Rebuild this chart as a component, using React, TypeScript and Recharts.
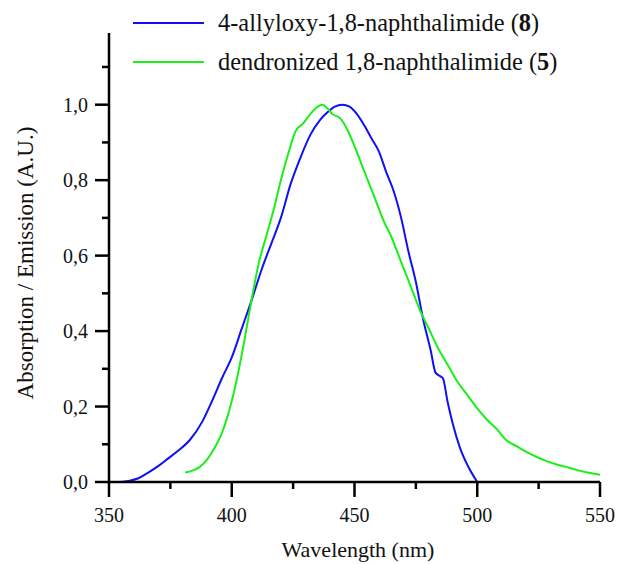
import { FC } from "react";
import { LineChart, Line, XAxis, YAxis, Label } from "recharts";

// absorption spectrum, 4-allyloxy-1,8-naphthalimide (8)
const absorption8 = [
  { nm: 353, v: 0 },
  { nm: 358, v: 0.003 },
  { nm: 362, v: 0.01 },
  { nm: 366, v: 0.025 },
  { nm: 370, v: 0.042 },
  { nm: 374, v: 0.062 },
  { nm: 378, v: 0.082 },
  { nm: 383, v: 0.112 },
  { nm: 388, v: 0.16 },
  { nm: 392, v: 0.215 },
  { nm: 396, v: 0.275 },
  { nm: 400, v: 0.33 },
  { nm: 404, v: 0.405 },
  { nm: 408, v: 0.48 },
  { nm: 412, v: 0.56 },
  { nm: 416, v: 0.63 },
  { nm: 420, v: 0.7 },
  { nm: 424, v: 0.79 },
  { nm: 428, v: 0.86 },
  { nm: 432, v: 0.92 },
  { nm: 436, v: 0.96 },
  { nm: 439, v: 0.98 },
  { nm: 442, v: 0.995 },
  { nm: 445, v: 1.0 },
  { nm: 448, v: 0.995 },
  { nm: 451, v: 0.975 },
  { nm: 454, v: 0.945 },
  { nm: 457, v: 0.91 },
  { nm: 460, v: 0.875 },
  { nm: 463, v: 0.82 },
  { nm: 466, v: 0.77 },
  { nm: 469, v: 0.7 },
  { nm: 472, v: 0.61 },
  { nm: 475, v: 0.53 },
  { nm: 478, v: 0.43 },
  { nm: 481, v: 0.35 },
  { nm: 483, v: 0.29 },
  { nm: 485, v: 0.28 },
  { nm: 486, v: 0.275 },
  { nm: 488, v: 0.21 },
  { nm: 490, v: 0.155 },
  { nm: 493, v: 0.09 },
  { nm: 496, v: 0.045 },
  { nm: 500, v: 0 },
];

// emission spectrum, dendronized 1,8-naphthalimide (5)
const emission5 = [
  { nm: 381, v: 0.025 },
  { nm: 384, v: 0.03 },
  { nm: 387, v: 0.04 },
  { nm: 390, v: 0.06 },
  { nm: 393, v: 0.09 },
  { nm: 396, v: 0.13 },
  { nm: 399, v: 0.19 },
  { nm: 402, v: 0.27 },
  { nm: 405, v: 0.37 },
  { nm: 408, v: 0.48 },
  { nm: 411, v: 0.58 },
  { nm: 414, v: 0.65 },
  { nm: 417, v: 0.72 },
  { nm: 420, v: 0.8 },
  { nm: 423, v: 0.87 },
  { nm: 426, v: 0.93 },
  { nm: 429, v: 0.95 },
  { nm: 432, v: 0.975 },
  { nm: 435, v: 0.995 },
  { nm: 437, v: 1.0 },
  { nm: 439, v: 0.99 },
  { nm: 441, v: 0.975 },
  { nm: 444, v: 0.965 },
  { nm: 447, v: 0.935 },
  { nm: 450, v: 0.89 },
  { nm: 453, v: 0.84 },
  { nm: 456, v: 0.79 },
  { nm: 459, v: 0.74 },
  { nm: 462, v: 0.69 },
  { nm: 465, v: 0.65 },
  { nm: 468, v: 0.6 },
  { nm: 471, v: 0.55 },
  { nm: 474, v: 0.5 },
  { nm: 477, v: 0.45 },
  { nm: 480, v: 0.41 },
  { nm: 484, v: 0.355 },
  { nm: 488, v: 0.31 },
  { nm: 492, v: 0.265 },
  { nm: 496, v: 0.23 },
  { nm: 500, v: 0.195 },
  { nm: 504, v: 0.165 },
  { nm: 508, v: 0.14 },
  { nm: 512, v: 0.11 },
  { nm: 516, v: 0.095 },
  { nm: 520, v: 0.08 },
  { nm: 524, v: 0.067 },
  { nm: 528, v: 0.056 },
  { nm: 532, v: 0.047 },
  { nm: 536, v: 0.04 },
  { nm: 540, v: 0.033 },
  { nm: 545, v: 0.025 },
  { nm: 550, v: 0.019 },
];

const xTicks = [350, 375, 400, 425, 450, 475, 500, 525, 550];
const xLabeled = [350, 400, 450, 500, 550];
const yTicks = [0, 0.1, 0.2, 0.3, 0.4, 0.5, 0.6, 0.7, 0.8, 0.9, 1.0, 1.1];
const yLabeled = [0, 0.2, 0.4, 0.6, 0.8, 1.0];

const serif = { fontFamily: "'Liberation Serif', 'Times New Roman', serif" };
const BLUE = "#1010f5";
const GREEN = "#18f018";

const XTick = (props: any) => {
  const { x, y, payload } = props;
  const major = xLabeled.includes(payload.value);
  return (
    <g>
      <line x1={x} x2={x} y1={y} y2={y + (major ? 15 : 7)} stroke="#000" strokeWidth={2.5} />
      {major && (
        <text x={x} y={y + 40} textAnchor="middle" fontSize={20} style={serif} fill="#111">
          {payload.value}
        </text>
      )}
    </g>
  );
};

const YTick = (props: any) => {
  const { x, y, payload } = props;
  const major = yLabeled.includes(payload.value);
  return (
    <g>
      <line x1={x - (major ? 14 : 7)} x2={x} y1={y} y2={y} stroke="#000" strokeWidth={2.5} />
      {major && (
        <text x={x - 21} y={y + 7} textAnchor="end" fontSize={20} style={serif} fill="#111">
          {payload.value.toFixed(1).replace(".", ",")}
        </text>
      )}
    </g>
  );
};

const legendRows = [
  { color: BLUE, name: "4-allyloxy-1,8-naphthalimide", num: "8" },
  { color: GREEN, name: "dendronized 1,8-naphthalimide", num: "5" },
];

const LegendBox: FC = () => (
  <svg width={618} height={90} style={{ position: "absolute", left: 0, top: 0 }}>
    {legendRows.map((r, i) => (
      <g key={r.num}>
        <line x1={133} x2={204} y1={23 + i * 39} y2={23 + i * 39} stroke={r.color} strokeWidth={2} />
        <text x={218} y={31 + i * 39} fontSize={24.4} style={serif} fill="#111">
          {r.name} (<tspan fontWeight="bold">{r.num}</tspan>)
        </text>
      </g>
    ))}
  </svg>
);

export default function App() {
  return (
    <div style={{ position: "absolute", left: 0, top: 0, width: 618, height: 564 }}>
      <LineChart width={618} height={564} margin={{ top: 33, right: 18, bottom: 0, left: 0 }}>
        <XAxis
          type="number"
          dataKey="nm"
          domain={[350, 550]}
          ticks={xTicks}
          tick={<XTick />}
          tickSize={0}
          tickMargin={0}
          tickLine={false}
          height={82}
          axisLine={{ stroke: "#000", strokeWidth: 2.5 }}
          allowDataOverflow
        >
          <Label
            content={() => (
              <text x={358} y={557} textAnchor="middle" fontSize={22} style={serif} fill="#111">
                Wavelength (nm)
              </text>
            )}
          />
        </XAxis>
        <YAxis
          type="number"
          domain={[0, 1.19]}
          ticks={yTicks}
          tick={<YTick />}
          tickSize={0}
          tickMargin={0}
          tickLine={false}
          width={109}
          axisLine={{ stroke: "#000", strokeWidth: 2.5 }}
          allowDataOverflow
        >
          <Label
            content={() => (
              <text
                x={33}
                y={263}
                transform="rotate(-90 33 263)"
                textAnchor="middle"
                fontSize={23}
                style={serif}
                fill="#111"
              >
                Absorption / Emission (A.U.)
              </text>
            )}
          />
        </YAxis>
        <Line
          data={absorption8}
          dataKey="v"
          name="8"
          stroke={BLUE}
          strokeWidth={2}
          dot={false}
          type="monotone"
          isAnimationActive={false}
        />
        <Line
          data={emission5}
          dataKey="v"
          name="5"
          stroke={GREEN}
          strokeWidth={2}
          dot={false}
          type="monotone"
          isAnimationActive={false}
        />
      </LineChart>
      <LegendBox />
    </div>
  );
}
